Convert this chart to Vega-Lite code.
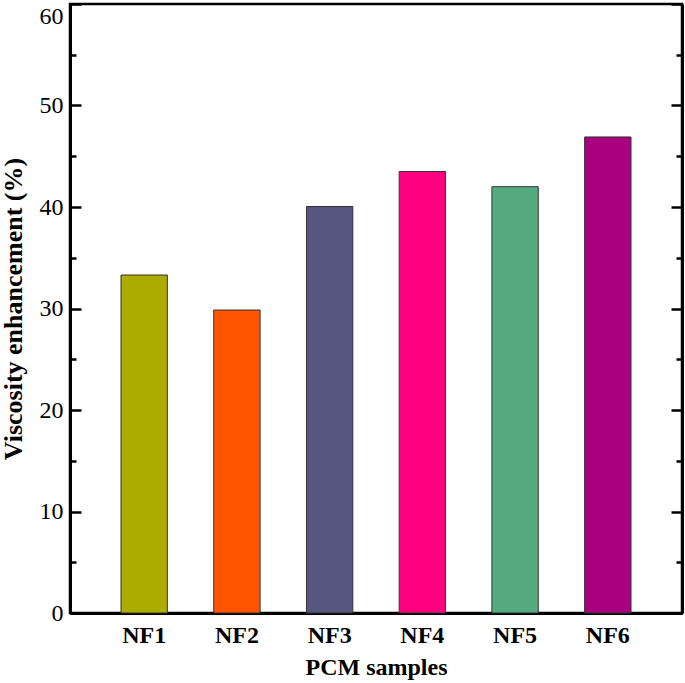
{
  "$schema": "https://vega.github.io/schema/vega-lite/v6.json",
  "width": 612,
  "height": 609,
  "autosize": {"type": "none"},
  "padding": {"left": 70, "top": 4, "right": 3, "bottom": 70},
  "background": "white",
  "config": {
    "view": {"stroke": "black", "strokeWidth": 2.5},
    "font": "Liberation Serif"
  },
  "data": {
    "values": [
      {"sample": "NF1", "value": 33.3},
      {"sample": "NF2", "value": 29.85},
      {"sample": "NF3", "value": 40.05},
      {"sample": "NF4", "value": 43.5},
      {"sample": "NF5", "value": 42.0},
      {"sample": "NF6", "value": 46.9}
    ]
  },
  "encoding": {
    "x": {
      "field": "sample",
      "type": "nominal",
      "sort": null,
      "scale": {"paddingInner": 0.5, "paddingOuter": 0.55},
      "axis": {
        "title": "PCM samples",
        "titleFont": "Liberation Serif",
        "titleFontSize": 24,
        "titleFontWeight": "bold",
        "titleColor": "black",
        "titlePadding": 8,
        "labelFont": "Liberation Serif",
        "labelFontSize": 24,
        "labelFontWeight": "bold",
        "labelColor": "black",
        "labelAngle": 0,
        "labelPadding": 10,
        "ticks": false,
        "domainColor": "black",
        "domainWidth": 3
      }
    }
  },
  "layer": [
    {
      "mark": {"type": "bar", "stroke": "#333333", "strokeWidth": 1},
      "encoding": {
        "y": {
          "field": "value",
          "type": "quantitative",
          "scale": {"domain": [0, 60], "nice": false},
          "axis": {
            "orient": "left",
            "title": "Viscosity enhancement (%)",
            "titleFont": "Liberation Serif",
            "titleFontSize": 26,
            "titleFontWeight": "bold",
            "titleColor": "black",
            "titlePadding": 13,
            "values": [0, 5, 10, 15, 20, 25, 30, 35, 40, 45, 50, 55, 60],
            "labelExpr": "datum.value % 10 === 0 ? datum.label : ''",
            "labelFont": "Liberation Serif",
            "labelFontSize": 24,
            "labelColor": "black",
            "labelPadding": 18,
            "labelBaseline": {"condition": {"test": "datum.value === 60", "value": "top"}, "value": "middle"},
            "grid": false,
            "domainColor": "black",
            "domainWidth": 3,
            "tickColor": "black",
            "tickWidth": 2.5,
            "tickSize": {"condition": {"test": "datum.value % 10 === 0", "value": -11}, "value": -6}
          }
        },
        "color": {
          "field": "sample",
          "type": "nominal",
          "sort": null,
          "scale": {
            "domain": ["NF1", "NF2", "NF3", "NF4", "NF5", "NF6"],
            "range": ["#ABAB00", "#FF5500", "#55557F", "#FF0080", "#55AA80", "#AA0080"]
          },
          "legend": null
        }
      }
    },
    {
      "mark": {"type": "bar", "opacity": 0},
      "encoding": {
        "y": {
          "field": "value",
          "type": "quantitative",
          "axis": {
            "orient": "right",
            "title": null,
            "labels": false,
            "values": [0, 5, 10, 15, 20, 25, 30, 35, 40, 45, 50, 55, 60],
            "grid": false,
            "domainColor": "black",
            "domainWidth": 3,
            "tickColor": "black",
            "tickWidth": 2.5,
            "tickSize": {"condition": {"test": "datum.value % 10 === 0", "value": -11}, "value": -6}
          }
        }
      }
    }
  ],
  "resolve": {"axis": {"y": "independent"}}
}
